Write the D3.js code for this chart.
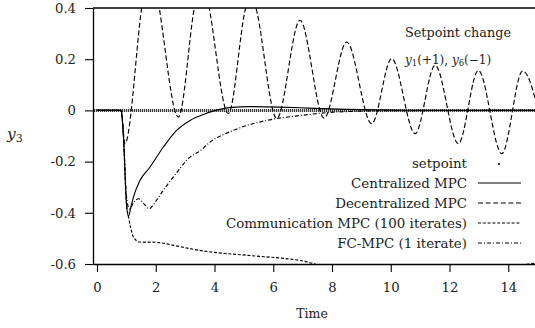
<!DOCTYPE html>
<html>
<head>
<meta charset="utf-8">
<script src="https://cdn.jsdelivr.net/npm/d3@7"></script>
<style>
  body { margin: 0; background: #fff; }
  text { font-family: "DejaVu Serif", serif; fill: #222; }
</style>
</head>
<body>
<svg id="chart" width="535" height="328"></svg>
<script>
// values
const xTicks = [0, 2, 4, 6, 8, 10, 12, 14];
const yTicks = [-0.6, -0.4, -0.2, 0, 0.2, 0.4];

const setpoint = [[-0.1, 0], [15, 0]];

const centralized = [
  [0, 0], [0.82, 0], [0.9, -0.1], [1.0, -0.36], [1.07, -0.414], [1.15, -0.38],
  [1.24, -0.339], [1.46, -0.274], [1.8, -0.222], [2.26, -0.143], [2.71, -0.078],
  [3.17, -0.039], [3.62, -0.016], [3.95, -0.003], [4.5, 0.011], [5.2, 0.015],
  [6.2, 0.013], [7.2, 0.009], [8.5, 0.004], [10, 0.001], [12, 0], [15, 0]
];

const decentralized = [
  [0, 0], [0.82, 0], [0.95, -0.13], [1.52, 0.4], [1.82, 0.62], [2.12, 0.4],
  [2.77, -0.026], [3.31, 0.4], [3.57, 0.55], [3.82, 0.4], [4.47, -0.012],
  [5.06, 0.4], [5.24, 0.46], [5.41, 0.4], [6.12, -0.032], [6.91, 0.352],
  [7.73, -0.03], [8.5, 0.267], [9.35, -0.052], [10.03, 0.202], [10.83, -0.091],
  [11.51, 0.176], [12.3, -0.13], [12.98, 0.156], [13.78, -0.169], [14.49, 0.154],
  [15.2, -0.1]
];

const communication = [
  [0, 0], [0.82, 0], [0.9, -0.1], [1.0, -0.36], [1.08, -0.42], [1.15, -0.46],
  [1.25, -0.497], [1.45, -0.514], [2.0, -0.515], [2.6, -0.527], [3.5, -0.547],
  [5.2, -0.567], [6.5, -0.58], [6.9, -0.586], [7.2, -0.593], [7.45, -0.602],
  [9, -0.65], [12, -0.66], [14.6, -0.602], [15, -0.596]
];

const fcmpc = [
  [0, 0], [0.82, 0], [0.9, -0.1], [1.0, -0.33], [1.1, -0.385], [1.25, -0.36],
  [1.41, -0.345], [1.6, -0.365], [1.78, -0.384], [2.0, -0.355], [2.3, -0.305],
  [2.6, -0.26], [3.17, -0.182], [3.51, -0.158], [3.85, -0.124], [4.64, -0.078],
  [5.78, -0.039], [6.91, -0.02], [8.05, -0.007], [10, -0.001], [15, 0]
];

const legendLabels = ["setpoint", "Centralized MPC", "Decentralized MPC",
  "Communication MPC (100 iterates)", "FC-MPC (1 iterate)"];

const svg = d3.select("#chart");
const plotLeft = 93, plotRight = 535, plotTop = 8, plotBottom = 264;

const x = d3.scaleLinear().domain([-0.136, 14.91]).range([plotLeft, plotRight]);
const y = d3.scaleLinear().domain([-0.6, 0.4]).range([plotBottom, plotTop]);

svg.append("defs").append("clipPath").attr("id", "plot")
  .append("rect").attr("x", plotLeft).attr("y", plotTop)
  .attr("width", plotRight - plotLeft).attr("height", plotBottom - plotTop);

const line = d3.line().x(d => x(d[0])).y(d => y(d[1])).curve(d3.curveMonotoneX);

const g = svg.append("g").attr("clip-path", "url(#plot)");

// setpoint drawn as a dense dotted band
g.append("path").datum(setpoint).attr("d", line)
  .attr("fill", "none").attr("stroke", "#333").attr("stroke-width", 3)
  .attr("stroke-dasharray", "1.2,0.8");

const styles = [
  { data: centralized, dash: null },
  { data: decentralized, dash: "5,2.6" },
  { data: communication, dash: "3,1.8" },
  { data: fcmpc, dash: "4,2,1,2" }
];

styles.forEach(s => {
  g.append("path").datum(s.data).attr("d", line)
    .attr("fill", "none").attr("stroke", "#000").attr("stroke-width", 1.15)
    .attr("stroke-dasharray", s.dash);
});

// frame: top line, left and bottom axes
svg.append("line").attr("x1", plotLeft).attr("x2", plotRight).attr("y1", plotTop).attr("y2", plotTop)
  .attr("stroke", "#000").attr("stroke-width", 1.3);

const fmt = v => v === 0 ? "0" : d3.format(".1f")(v).replace("\u2212", "-");

const yAxis = svg.append("g").attr("transform", `translate(${plotLeft},0)`)
  .call(d3.axisLeft(y).tickValues(yTicks).tickSize(8).tickSizeOuter(0).tickPadding(9).tickFormat(fmt));

const xAxis = svg.append("g").attr("transform", `translate(0,${plotBottom})`)
  .call(d3.axisBottom(x).tickValues(xTicks).tickSize(8).tickSizeOuter(0).tickPadding(11).tickFormat(d3.format("d")));

[yAxis, xAxis].forEach(a => {
  a.select(".domain").attr("stroke-width", 1.3);
  a.selectAll(".tick line").attr("stroke-width", 1.1);
  a.selectAll("text").attr("font-size", 13.2).attr("font-family", "DejaVu Serif, serif").attr("fill", "#222");
});

// axis titles
svg.append("text").attr("x", 312).attr("y", 318).attr("text-anchor", "middle")
  .attr("font-size", 12.5).text("Time");

svg.append("text").attr("x", 7).attr("y", 139).attr("font-size", 15.5)
  .attr("font-style", "italic").html('y<tspan font-size="11" font-style="normal" dy="3">3</tspan>');

// annotation
svg.append("text").attr("x", 405).attr("y", 37).attr("font-size", 12.8).text("Setpoint change");
svg.append("text").attr("x", 405).attr("y", 64).attr("font-size", 12)
  .html('<tspan font-style="italic">y</tspan><tspan font-size="8.5" dy="2">1</tspan><tspan dy="-2">(+1), </tspan><tspan font-style="italic">y</tspan><tspan font-size="8.5" dy="2">6</tspan><tspan dy="-2">(\u22121)</tspan>');

// legend
const legend = svg.append("g");
const rows = legend.selectAll("g").data(legendLabels).join("g")
  .attr("transform", (d, i) => `translate(0,${163 + i * 20})`);

rows.append("text").attr("x", 467).attr("y", 4.5).attr("text-anchor", "end")
  .attr("font-size", 13.4).text(d => d);

rows.filter((d, i) => i > 0).append("line")
  .attr("x1", 478).attr("x2", 521).attr("y1", 0).attr("y2", 0)
  .attr("stroke", "#000").attr("stroke-width", 1.1)
  .attr("stroke-dasharray", (d, i) => styles[i].dash);

rows.filter((d, i) => i === 0).append("circle")
  .attr("cx", 499).attr("cy", 1).attr("r", 1.1).attr("fill", "#000");
</script>
</body>
</html>
